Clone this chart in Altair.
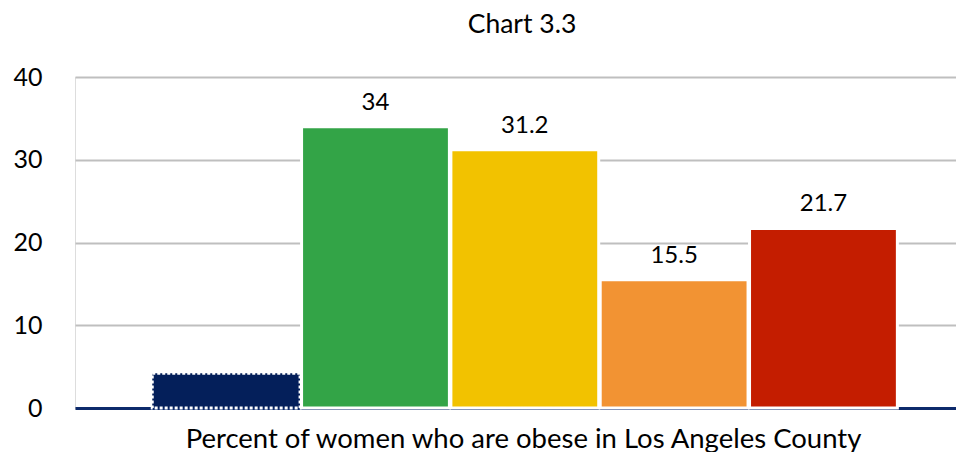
import altair as alt
import pandas as pd

categories = ["Category 1", "Category 2", "Category 3", "Category 4", "Category 5"]
values = [4.2, 34, 31.2, 15.5, 21.7]
labels = ["", "34", "31.2", "15.5", "21.7"]
colors = ["#041f5a", "#33a447", "#f2c200", "#f29333", "#c41d00"]
y_ticks = [0, 10, 20, 30, 40]
chart_title = "Chart 3.3"
x_title = "Percent of women who are obese in Los Angeles County"

df = pd.DataFrame({"cat": categories, "value": values, "label": labels})

FONT = "Lato"

x_enc = alt.X(
    "cat:N",
    sort=categories,
    scale=alt.Scale(paddingInner=0.01, paddingOuter=0.455, align=0.5685),
    axis=alt.Axis(
        title=x_title,
        labels=False,
        ticks=False,
        domain=True,
        domainColor="#0d2a6b",
        domainWidth=3,
        titleFont=FONT,
        titleFontSize=27.5,
        titleFontWeight="normal",
        titleColor="#000000",
        titleBaseline="alphabetic",
        titleAlign="center",
        titleX=448,
        titleY=39,
    ),
)

y_enc = alt.Y(
    "value:Q",
    scale=alt.Scale(domain=[0, 40], nice=False),
    axis=alt.Axis(
        title=None,
        values=y_ticks,
        ticks=False,
        domain=False,
        grid=True,
        gridColor="#bfbfbf",
        gridWidth=2,
        labelFont=FONT,
        labelFontSize=25,
        labelColor="#000000",
        labelPadding=33,
    ),
)

bars = alt.Chart(df).mark_bar(stroke="white", strokeWidth=3).encode(
    x=x_enc,
    y=y_enc,
    color=alt.Color("cat:N", scale=alt.Scale(domain=categories, range=colors), legend=None),
    strokeDash=alt.condition(alt.datum.cat == categories[0], alt.value([3, 2]), alt.value([1, 0])),
)

text = alt.Chart(df).transform_filter(alt.datum.label != "").mark_text(
    font=FONT, fontSize=24, color="#000000", baseline="alphabetic", dy=-17
).encode(
    x=alt.X("cat:N", sort=categories),
    y=alt.Y("value:Q"),
    text="label:N",
)

title_mark = alt.Chart(pd.DataFrame({"t": [chart_title]})).mark_text(
    font=FONT, fontSize=26.5, color="#000000", baseline="alphabetic", align="center"
).encode(
    x=alt.value(447),
    y=alt.value(-44),
    text="t:N",
)

chart = (bars + text + title_mark).properties(
    width=881,
    height=331,
    autosize=alt.AutoSizeParams(type="none"),
    padding={"left": 67, "top": 69, "right": 0, "bottom": 44},
).configure_view(stroke=None).configure(background="white")

chart.save("out.html", embed_options={"renderer": "svg", "actions": False})
